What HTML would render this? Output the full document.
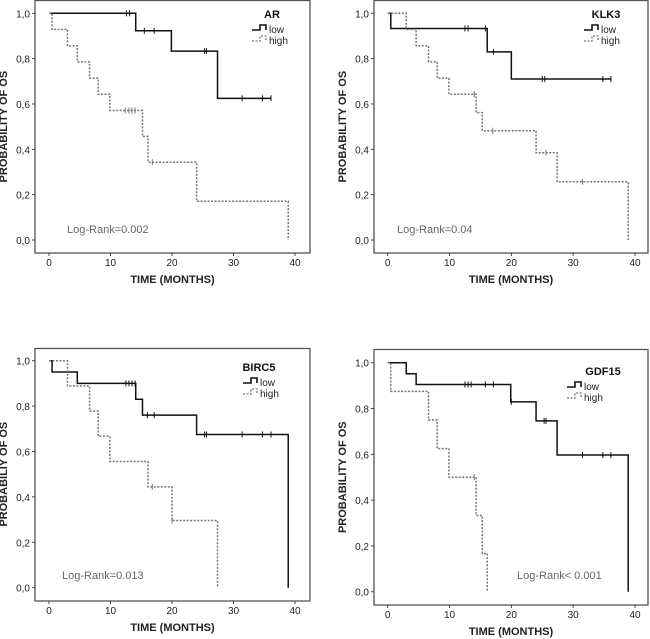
<!DOCTYPE html>
<html><head><meta charset="utf-8"><style>
body{margin:0;background:#fff;}
svg{display:block;font-family:"Liberation Sans",Arial,sans-serif;}
</style></head><body>
<svg id="c" width="650" height="639" viewBox="0 0 650 639"></svg>
<script>
// ---- data ----
const yTicks = [0,0.2,0.4,0.6,0.8,1.0];
const yTickLabels = ["0,0","0,2","0,4","0,6","0,8","1,0"];
const xTicks = [0,10,20,30,40];
const panelTitles = ["AR","KLK3","BIRC5","GDF15"];
const logRankLabels = ["Log-Rank=0.002","Log-Rank=0.04","Log-Rank=0.013","Log-Rank< 0.001"];
const yAxisTitles = ["PROBABILITY OF OS","PROBABILITY OF OS","PROBABILIY OF OS","PROBABILITY OF OS"];

const arLowT = [0,14.1,19.9,27.4], arLowS = [1,0.923,0.833,0.625], arLowEnd = 36.1;
const arLowCens = [12.6,13.1,15.5,17.1,25.3,25.6,31.4,34.7,36.1];
const arHighT = [0,0.5,3.0,4.6,6.6,8.0,9.9,15.2,16.1,24.0,38.9], arHighS = [1,0.929,0.857,0.786,0.714,0.643,0.571,0.457,0.343,0.171,0], arHighEnd = 38.9;
const arHighCens = [12.4,13.0,13.5,14.0,16.8];

const klkLowT = [0,0.5,16.1,20.0], klkLowS = [1,0.933,0.83,0.71], klkLowEnd = 36.1;
const klkLowCens = [12.5,13.0,15.8,17.1,25.0,25.4,34.8,36.1];
const klkHighT = [0,3.0,4.6,6.6,8.0,9.9,14.3,15.3,24.0,27.4,38.9], klkHighS = [1,0.929,0.857,0.786,0.714,0.643,0.562,0.482,0.385,0.257,0], klkHighEnd = 38.9;
const klkHighCens = [14.0,17.0,25.6,31.5];

const bircLowT = [0,0.5,4.6,14.1,15.2,24.0,38.9], bircLowS = [1,0.95,0.90,0.83,0.76,0.675,0], bircLowEnd = 38.9;
const bircLowCens = [12.5,13.0,13.5,14.0,16.0,17.1,25.3,25.6,31.4,34.7,36.1];
const bircHighT = [0,3.0,6.6,8.0,9.9,16.1,20.0,27.4], bircHighS = [1,0.889,0.778,0.667,0.556,0.444,0.296,0], bircHighEnd = 27.4;
const bircHighCens = [16.8,20.0];

const gdfLowT = [0,3.0,4.6,19.9,24.0,27.4,38.9], gdfLowS = [1,0.952,0.905,0.829,0.746,0.597,0], gdfLowEnd = 38.9;
const gdfLowCens = [12.5,13.0,13.5,15.8,17.1,20.0,25.3,25.6,31.5,34.8,36.1];
const gdfHighT = [0,0.5,6.6,8.0,9.9,14.3,15.3,16.1], gdfHighS = [1,0.875,0.75,0.625,0.5,0.333,0.167,0], gdfHighEnd = 16.1;
const gdfHighCens = [14.0];

// ---- layout ----
const NS="http://www.w3.org/2000/svg";
const svg=document.getElementById('c');
function mk(tag,attrs,parent){const e=document.createElementNS(NS,tag);for(const k in attrs)e.setAttribute(k,attrs[k]);(parent||svg).appendChild(e);return e;}
const panels=[
 {fx0:35,fx1:310,fy0:0,fy1:253,x0:49,x40:295,y1:13.3,y0:240,lr:[67,233],leg:[272,252],legY:13,
  low:[arLowT,arLowS,arLowEnd,arLowCens],high:[arHighT,arHighS,arHighEnd,arHighCens]},
 {fx0:374,fx1:648,fy0:0,fy1:253,x0:387.7,x40:635,y1:13.3,y0:240,lr:[397,233],leg:[606,584],legY:13,
  low:[klkLowT,klkLowS,klkLowEnd,klkLowCens],high:[klkHighT,klkHighS,klkHighEnd,klkHighCens]},
 {fx0:35,fx1:310,fy0:348,fy1:601,x0:49,x40:295,y1:360.7,y0:587.7,lr:[62,579],leg:[259,243],legY:366,
  low:[bircLowT,bircLowS,bircLowEnd,bircLowCens],high:[bircHighT,bircHighS,bircHighEnd,bircHighCens]},
 {fx0:374,fx1:648,fy0:349,fy1:605,x0:387.7,x40:635,y1:362.7,y0:591.7,lr:[517,579],leg:[603,567],legY:370,
  low:[gdfLowT,gdfLowS,gdfLowEnd,gdfLowCens],high:[gdfHighT,gdfHighS,gdfHighEnd,gdfHighCens]}
];
panels.forEach((p,i)=>{
  const g=mk('g',{});
  
  
  const X=t=>p.x0+(p.x40-p.x0)*t/40, Y=s=>p.y0+(p.y1-p.y0)*s;
  const fr=mk('rect',{x:p.fx0,y:p.fy0+0.5,width:p.fx1-p.fx0,height:p.fy1-p.fy0-0.5,fill:'none',stroke:'#555','stroke-width':1.3},g);
  
  yTicks.forEach((v,j)=>{
    mk('line',{x1:p.fx0-3,x2:p.fx0,y1:Y(v),y2:Y(v),stroke:'#444'},g);
    const t=mk('text',{x:p.fx0-5,y:Y(v)+4,'text-anchor':'end','font-size':10,fill:'#222'},g);
    t.textContent=yTickLabels[j];
    
  });
  xTicks.forEach(v=>{
    mk('line',{x1:X(v),x2:X(v),y1:p.fy1,y2:p.fy1+3,stroke:'#444'},g);
    const t=mk('text',{x:X(v),y:p.fy1+13,'text-anchor':'middle','font-size':10,fill:'#222'},g);
    t.textContent=v;
    
  });
  const xt=mk('text',{x:(p.fx0+p.fx1)/2,y:p.fy1+30,'text-anchor':'middle','font-size':11,'font-weight':'bold',fill:'#222'},g);
  xt.textContent='TIME (MONTHS)';
  
  const ycx=p.fx0-28, ycy=(p.y0+p.y1)/2;
  const yt=mk('text',{x:ycx,y:ycy,'text-anchor':'middle','font-size':11,'font-weight':'bold',fill:'#222',transform:`rotate(-90 ${ycx} ${ycy})`},g);
  yt.textContent=yAxisTitles[i];
  
  const tt=mk('text',{x:p.leg[0],y:p.legY+5,'text-anchor':'middle','font-size':11,'font-weight':'bold',fill:'#111'},g);
  tt.textContent=panelTitles[i];
  
  [['low',0],['high',1]].forEach(([nm,k])=>{
    const ly=p.legY+17+k*11, lx=p.leg[1];
    const dash=k?'2,1.5':'none', col=k?'#777':'#111', w=k?1.3:1.6;
    mk('path',{d:`M${lx} ${ly} H${lx+8} V${ly-5} H${lx+14} V${ly}`,fill:'none',stroke:col,'stroke-width':w,'stroke-dasharray':dash},g);
    const lt=mk('text',{x:lx+17,y:ly+3,'font-size':10,fill:'#222'},g);
    lt.textContent=nm;
    
  });
  const lr=mk('text',{x:p.lr[0],y:p.lr[1],'font-size':11,fill:'#666'},g);
  lr.textContent=logRankLabels[i];
  
  [['low',p.low],['high',p.high]].forEach(([nm,[T,S,end,C]])=>{
    let d=`M${X(T[0])} ${Y(S[0])}`;
    for(let j=1;j<T.length;j++){d+=` H${X(T[j])} V${Y(S[j])}`;}
    d+=` H${X(end)}`;
    const dash=nm==='high'?'2,1.5':'none', col=nm==='high'?'#777':'#111', w=nm==='high'?1.5:1.5;
    const ln=mk('path',{d:d,fill:'none',stroke:col,'stroke-width':w,'stroke-dasharray':dash},g);
    
    C.forEach(c=>{
      let s=S[0];for(let j=0;j<T.length;j++){if(T[j]<=c)s=S[j];}
      const m=mk('line',{x1:X(c),x2:X(c),y1:Y(s)-3,y2:Y(s)+3,stroke:col,'stroke-width':1},g);
      
    });
  });
});
</script>
</body></html>
